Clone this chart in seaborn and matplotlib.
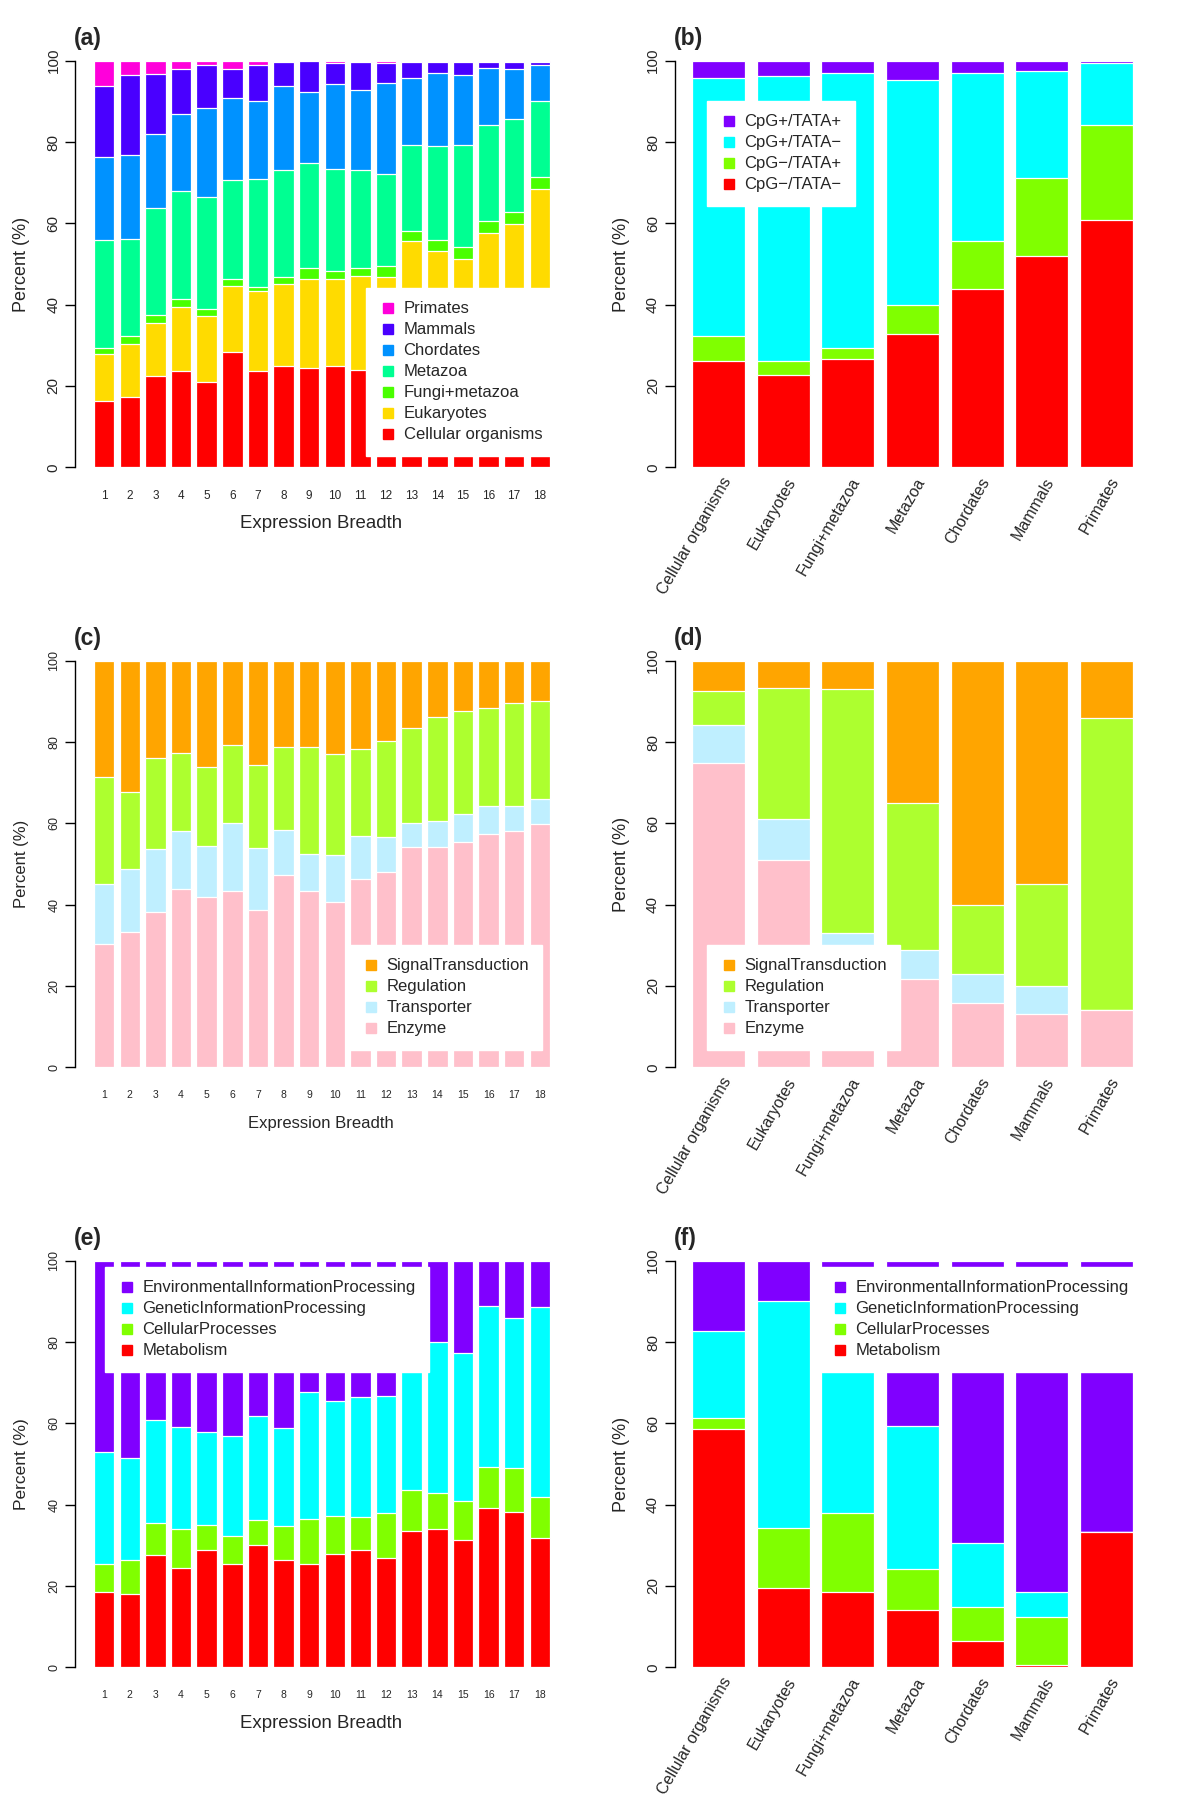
import numpy as np
import pandas as pd
import seaborn as sns
import matplotlib
matplotlib.use("Agg")
import matplotlib.pyplot as plt
from matplotlib.lines import Line2D
from matplotlib.transforms import ScaledTranslation

# ---- data (percent per group, listed bottom-up in each stack) ----
breadth = [str(i) for i in range(1, 19)]
lineages = ["Cellular organisms", "Eukaryotes", "Fungi+metazoa", "Metazoa",
            "Chordates", "Mammals", "Primates"]

# (a) gene age vs expression breadth
age_cellular = [16.2, 17.4, 22.5, 23.8, 21.1, 28.4, 23.6, 24.8, 24.4, 24.8, 23.9, 25.0, 28.0, 29.0, 27.0, 31.0, 31.0, 32.1]
age_eukaryotes = [11.7, 12.9, 13.1, 15.7, 16.1, 16.3, 19.8, 20.3, 21.9, 21.5, 23.1, 21.8, 27.7, 24.2, 24.2, 26.7, 28.8, 36.4]
age_fungi = [1.4, 2.1, 1.9, 2.0, 1.8, 1.7, 1.0, 1.7, 2.7, 1.9, 2.0, 2.7, 2.4, 2.6, 3.1, 2.9, 3.0, 3.0]
age_metazoa = [26.6, 23.8, 26.2, 26.5, 27.4, 24.2, 26.5, 26.2, 25.9, 25.2, 24.1, 22.6, 21.2, 23.2, 25.0, 23.5, 22.8, 18.5]
age_chordates = [20.5, 20.5, 18.3, 19.0, 21.9, 20.2, 19.3, 20.7, 17.4, 20.9, 19.6, 22.3, 16.5, 18.0, 17.3, 14.1, 12.3, 9.0]
age_mammals = [17.5, 19.9, 14.8, 11.0, 10.6, 7.2, 8.8, 6.0, 7.7, 5.2, 7.0, 5.1, 3.9, 2.7, 3.1, 1.5, 1.8, 0.8]
age_primates = [6.1, 3.4, 3.2, 2.0, 1.1, 2.0, 1.0, 0.3, 0.0, 0.5, 0.3, 0.5, 0.3, 0.3, 0.3, 0.3, 0.3, 0.2]

# (b) promoter type vs gene age
cpg_neg_tata_neg = [26.2, 22.8, 26.6, 32.9, 43.9, 52.0, 60.9]
cpg_neg_tata_pos = [6.2, 3.3, 2.8, 6.9, 11.8, 19.1, 23.2]
cpg_pos_tata_neg = [63.3, 70.1, 67.5, 55.4, 41.2, 26.4, 15.4]
cpg_pos_tata_pos = [4.3, 3.8, 3.1, 4.8, 3.1, 2.5, 0.5]

# (c) protein function vs expression breadth
fn_enzyme = [30.3, 33.2, 38.3, 43.9, 42.0, 43.4, 38.6, 47.2, 43.4, 40.7, 46.4, 48.0, 54.3, 54.3, 55.5, 57.5, 58.0, 59.9]
fn_transporter = [14.9, 15.5, 15.3, 14.3, 12.4, 16.7, 15.3, 11.1, 9.1, 11.5, 10.6, 8.6, 5.7, 6.3, 6.8, 6.8, 6.3, 6.2]
fn_regulation = [26.3, 18.9, 22.4, 19.2, 19.5, 19.1, 20.5, 20.4, 26.2, 24.8, 21.2, 23.6, 23.4, 25.6, 25.4, 24.0, 25.2, 24.0]
fn_signal = [28.5, 32.4, 24.0, 22.6, 26.1, 20.8, 25.6, 21.3, 21.3, 23.0, 21.8, 19.8, 16.6, 13.8, 12.3, 11.7, 10.5, 9.9]

# (d) protein function vs gene age
age_fn_enzyme = [74.8, 51.0, 29.7, 21.6, 15.9, 13.1, 14.1]
age_fn_transporter = [9.4, 10.1, 3.4, 7.3, 7.1, 6.9, 0.0]
age_fn_regulation = [8.4, 32.3, 59.9, 36.2, 16.8, 25.2, 71.9]
age_fn_signal = [7.4, 6.6, 7.0, 34.9, 60.2, 54.8, 14.0]

# (e) KEGG category vs expression breadth
kegg_metabolism = [18.4, 18.0, 27.5, 24.5, 28.8, 25.3, 30.2, 26.4, 25.3, 27.9, 28.9, 26.8, 33.6, 33.9, 31.3, 39.1, 38.2, 31.7]
kegg_cellular = [7.0, 8.4, 8.1, 9.4, 6.3, 7.0, 6.1, 8.4, 11.2, 9.4, 8.0, 11.1, 10.0, 8.9, 9.7, 10.2, 10.7, 10.3]
kegg_genetic = [27.5, 25.0, 25.1, 25.3, 22.8, 24.7, 25.4, 24.0, 31.3, 28.3, 29.7, 28.9, 30.8, 37.1, 36.2, 39.6, 36.9, 46.7]
kegg_environmental = [47.1, 48.6, 39.3, 40.8, 42.1, 43.0, 38.3, 41.2, 32.2, 34.4, 33.4, 33.2, 25.6, 20.1, 22.8, 11.1, 14.2, 11.3]

# (f) KEGG category vs gene age
age_kegg_metabolism = [58.5, 19.6, 18.5, 14.1, 6.5, 0.6, 33.2]
age_kegg_cellular = [2.7, 14.6, 19.4, 10.1, 8.4, 11.7, 0.0]
age_kegg_genetic = [21.6, 55.9, 50.1, 35.2, 15.6, 6.3, 0.0]
age_kegg_environmental = [17.2, 9.9, 12.0, 40.6, 69.5, 81.4, 66.8]

rainbow7 = ["#FF0000", "#FFDB00", "#49FF00", "#00FF92", "#0092FF", "#4900FF", "#FF00DB"]
rainbow4 = ["#FF0000", "#80FF00", "#00FFFF", "#8000FF"]
func_colors = ["#FFC0CB", "#BFEFFF", "#ADFF2F", "#FFA500"]

promoter_labels = ["CpG\u2212/TATA\u2212", "CpG\u2212/TATA+", "CpG+/TATA\u2212", "CpG+/TATA+"]
func_labels = ["Enzyme", "Transporter", "Regulation", "SignalTransduction"]
kegg_labels = ["Metabolism", "CellularProcesses", "GeneticInformationProcessing",
               "EnvironmentalInformationProcessing"]

sns.set_style("white")
plt.rcParams["font.family"] = ["Liberation Sans", "DejaVu Sans"]

W, H = 1200, 1800
PX_UNIT = 4.066           # pixels per percent
ZERO_Y = 467.3            # y pixel of 0% in top row
ROW_STEP = 600
fig = plt.figure(figsize=(W / 100, H / 100), dpi=100)


def make_axes(col, row):
    zero = ZERO_Y + row * ROW_STEP
    height = 104 * PX_UNIT
    if col == 0:
        left, width = 75, 494
    else:
        left, width = 674.5, 476
    return fig.add_axes([left / W, 1 - zero / H, width / W, height / H])


def stacked(ax, names, layers, colors, width):
    df = pd.DataFrame({"name": names})
    cum = np.cumsum(np.array(layers, dtype=float), axis=0)
    # draw from the top layer down so lower segments cover upper totals
    for i in range(len(layers) - 1, -1, -1):
        sns.barplot(data=df.assign(v=cum[i]), x="name", y="v", order=names,
                    color=colors[i], saturation=1, width=width,
                    edgecolor="white", linewidth=0.9, errorbar=None, ax=ax)


def style(ax, xlim, ytick_size):
    ax.set_xlim(xlim)
    ax.set_ylim(0, 104)
    for s in ["top", "right", "bottom"]:
        ax.spines[s].set_visible(False)
    ax.spines["left"].set_bounds(0, 100)
    ax.spines["left"].set_color("black")
    ax.spines["left"].set_linewidth(1.0)
    ax.set_yticks(range(0, 101, 20))
    ax.tick_params(axis="y", length=7, width=1.0, pad=3.5, labelsize=ytick_size,
                   labelrotation=90, left=True, color="black")
    for t in ax.get_yticklabels():
        t.set_va("center")
    ax.set_xlabel("")
    ax.set_ylabel("")
    ax.set_facecolor("none")


def add_legend(ax, labels, colors, left, top, fontsize=12):
    handles = [Line2D([], [], marker="s", ls="", color=c, markersize=6.5) for c in colors]
    leg = ax.legend(handles, labels, loc="upper left",
                    bbox_to_anchor=(left / W, 1 - top / H), bbox_transform=fig.transFigure,
                    borderaxespad=0, frameon=True, fancybox=False, framealpha=1,
                    edgecolor="white", facecolor="white", fontsize=fontsize,
                    handlelength=1.0, handletextpad=0.45, labelspacing=0.36,
                    borderpad=0.8)
    leg.set_zorder(10)


def breadth_panel(row, layers, colors, labels, tag, ytick_size, ylab_size, xt_size, xlab_size,
                  leg_pos):
    ax = make_axes(0, row)
    stacked(ax, breadth, layers, colors, 0.8)
    style(ax, (-1.14, 18.14), ytick_size)
    ax.set_xticks(range(len(breadth)))
    ax.set_xticklabels(breadth, fontsize=xt_size)
    ax.tick_params(axis="x", length=0, pad=16)
    zero = ZERO_Y + row * ROW_STEP
    fig.text(321 / W, 1 - (zero + 56) / H, "Expression Breadth", ha="center", va="center",
             fontsize=xlab_size)
    fig.text(22 / W, 1 - (zero - 203) / H, "Percent (%)", rotation=90, ha="center",
             va="center", fontsize=ylab_size)
    fig.text(74 / W, 1 - (zero - 440) / H, tag, ha="left", va="top", fontsize=16.5,
             fontweight="bold")
    add_legend(ax, labels[::-1], colors[::-1], *leg_pos)
    return ax


def age_panel(row, layers, colors, labels, tag, leg_pos):
    ax = make_axes(1, row)
    stacked(ax, lineages, layers, colors, 0.82)
    style(ax, (-0.68, 6.68), 11)
    ax.set_xticks(range(len(lineages)))
    ax.set_xticklabels(lineages, fontsize=11.5, rotation=60, ha="right", va="center",
                       rotation_mode="anchor")
    ax.tick_params(axis="x", length=0, pad=8)
    shift = ScaledTranslation(9 / 100, 0, fig.dpi_scale_trans)
    for t in ax.get_xticklabels():
        t.set_transform(t.get_transform() + shift)
    zero = ZERO_Y + row * ROW_STEP
    fig.text(622 / W, 1 - (zero - 203) / H, "Percent (%)", rotation=90, ha="center",
             va="center", fontsize=13)
    fig.text(674 / W, 1 - (zero - 440) / H, tag, ha="left", va="top", fontsize=16.5,
             fontweight="bold")
    add_legend(ax, labels[::-1], colors[::-1], *leg_pos)
    return ax


breadth_panel(0, [age_cellular, age_eukaryotes, age_fungi, age_metazoa, age_chordates,
                  age_mammals, age_primates], rainbow7, lineages, "(a)",
              11, 13, 8.5, 13.4, (366, 288))
age_panel(0, [cpg_neg_tata_neg, cpg_neg_tata_pos, cpg_pos_tata_neg, cpg_pos_tata_pos],
          rainbow4, promoter_labels, "(b)", (707, 101))

breadth_panel(1, [fn_enzyme, fn_transporter, fn_regulation, fn_signal], func_colors,
              func_labels, "(c)", 9, 12, 7.5, 12, (349, 945))
age_panel(1, [age_fn_enzyme, age_fn_transporter, age_fn_regulation, age_fn_signal],
          func_colors, func_labels, "(d)", (707, 945))

breadth_panel(2, [kegg_metabolism, kegg_cellular, kegg_genetic, kegg_environmental],
              rainbow4, kegg_labels, "(e)", 9, 12.5, 7.5, 13.4, (105, 1267))
age_panel(2, [age_kegg_metabolism, age_kegg_cellular, age_kegg_genetic,
              age_kegg_environmental], rainbow4, kegg_labels, "(f)", (818, 1267))

fig.savefig("out.png", dpi=100, facecolor="white")
